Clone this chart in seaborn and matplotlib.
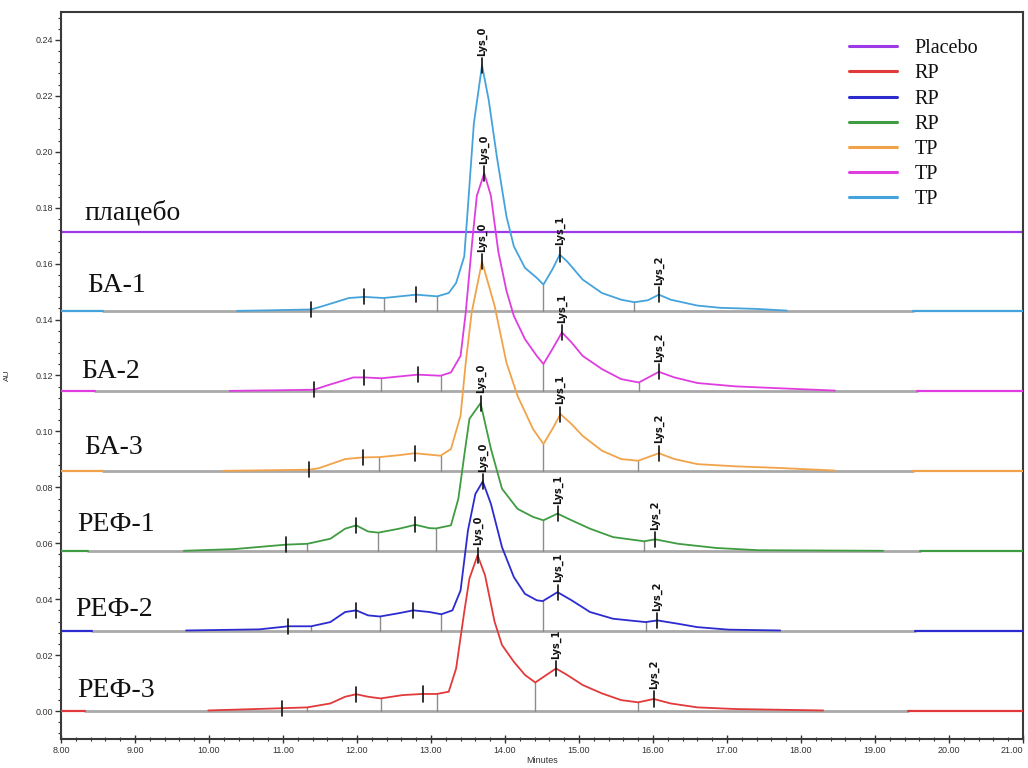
import numpy as np
import pandas as pd
import matplotlib
matplotlib.use('Agg')
import matplotlib.pyplot as plt
import seaborn as sns
from matplotlib.lines import Line2D
from matplotlib.ticker import MultipleLocator, FormatStrFormatter

# sample traces, heights are AU above each trace's own baseline
SAMPLES = ['БА-1', 'БА-2', 'БА-3', 'РЕФ-1', 'РЕФ-2', 'РЕФ-3']
OFFSETS = [0.1429, 0.1143, 0.0857, 0.0571, 0.0286, 0.0]
COLORS = ['#45a3dc', '#e03de0', '#f2a34a', '#3f9c42', '#2b2bd0', '#e23a3a']

PLACEBO_NAME = 'плацебо'
PLACEBO_LEVEL = 0.1714
PLACEBO_COLOR = '#9b3ae6'

BA1_T = [10.38, 10.81, 11.38, 11.55, 11.89, 12.10, 12.36, 12.80, 13.085, 13.24, 13.34, 13.45,
         13.50, 13.58, 13.69, 13.78, 13.89, 14.02, 14.12, 14.27, 14.43, 14.52, 14.64, 14.74,
         14.84, 15.05, 15.31, 15.57, 15.75, 15.93, 16.08, 16.24, 16.60, 16.91, 17.40, 17.81]
BA1_H = [0.0002, 0.0004, 0.0007, 0.0020, 0.0048, 0.0052, 0.0048, 0.0060, 0.0054, 0.0066, 0.0102, 0.0197,
         0.0376, 0.0673, 0.0880, 0.0757, 0.0554, 0.0340, 0.0233, 0.0156, 0.0120, 0.0096, 0.0150, 0.0203,
         0.0179, 0.0114, 0.0066, 0.0042, 0.0033, 0.0040, 0.0060, 0.0042, 0.0021, 0.0013, 0.0009, 0.0003]

BA2_T = [10.28, 10.91, 11.42, 11.58, 11.95, 12.10, 12.33, 12.82, 13.13, 13.27, 13.40, 13.47,
         13.56, 13.62, 13.72, 13.81, 13.91, 14.02, 14.12, 14.27, 14.43, 14.52, 14.64, 14.77,
         14.90, 15.05, 15.31, 15.57, 15.81, 16.08, 16.29, 16.60, 17.12, 17.64, 18.46]
BA2_H = [0.0002, 0.0004, 0.0006, 0.0020, 0.0050, 0.0050, 0.0047, 0.0060, 0.0056, 0.0068, 0.0127, 0.0282,
         0.0544, 0.0700, 0.0780, 0.0700, 0.0500, 0.0360, 0.0270, 0.0187, 0.0127, 0.0098, 0.0151, 0.0211,
         0.0175, 0.0127, 0.0080, 0.0044, 0.0032, 0.0070, 0.0050, 0.0030, 0.0018, 0.0012, 0.0003]

BA3_T = [10.19, 10.80, 11.35, 11.48, 11.84, 12.08, 12.30, 12.57, 12.78, 13.13, 13.27, 13.40,
         13.47, 13.55, 13.69, 13.86, 14.02, 14.17, 14.38, 14.52, 14.64, 14.75, 14.90, 15.05,
         15.31, 15.57, 15.80, 16.08, 16.29, 16.60, 17.12, 17.64, 18.46]
BA3_H = [0.0002, 0.0004, 0.0006, 0.0011, 0.0044, 0.0050, 0.0051, 0.0058, 0.0065, 0.0056, 0.0080, 0.0199,
         0.0389, 0.0568, 0.0750, 0.0592, 0.0389, 0.0270, 0.0151, 0.0098, 0.0151, 0.0205, 0.0169, 0.0127,
         0.0074, 0.0044, 0.0038, 0.0065, 0.0044, 0.0026, 0.0018, 0.0013, 0.0003]

REF1_T = [9.66, 10.34, 11.04, 11.33, 11.64, 11.84, 11.99, 12.15, 12.29, 12.57, 12.79, 12.98,
          13.07, 13.27, 13.37, 13.45, 13.52, 13.67, 13.81, 13.96, 14.17, 14.38, 14.52, 14.71,
          14.90, 15.15, 15.46, 15.88, 16.03, 16.34, 16.86, 17.43, 19.11]
REF1_H = [0.0002, 0.0008, 0.0024, 0.0027, 0.0045, 0.0081, 0.0093, 0.0071, 0.0067, 0.0081, 0.0095, 0.0083,
          0.0082, 0.0093, 0.0188, 0.0343, 0.0474, 0.0530, 0.0367, 0.0224, 0.0152, 0.0123, 0.0111, 0.0135,
          0.0111, 0.0081, 0.0051, 0.0036, 0.0043, 0.0027, 0.0012, 0.0004, 0.0002]

REF2_T = [9.69, 10.68, 11.07, 11.38, 11.64, 11.84, 11.99, 12.15, 12.31, 12.57, 12.76, 12.98,
          13.14, 13.29, 13.40, 13.50, 13.60, 13.70, 13.81, 13.96, 14.12, 14.27, 14.43, 14.51,
          14.71, 14.90, 15.15, 15.46, 15.90, 16.06, 16.34, 16.60, 17.02, 17.72]
REF2_H = [0.0002, 0.0006, 0.0017, 0.0017, 0.0032, 0.0068, 0.0074, 0.0056, 0.0052, 0.0064, 0.0074, 0.0068,
          0.0060, 0.0074, 0.0145, 0.0360, 0.0490, 0.0535, 0.0455, 0.0300, 0.0193, 0.0133, 0.0110, 0.0107,
          0.0139, 0.0110, 0.0068, 0.0044, 0.0032, 0.0038, 0.0026, 0.0014, 0.0005, 0.0002]

REF3_T = [9.99, 10.50, 10.99, 11.33, 11.64, 11.84, 11.99, 12.15, 12.32, 12.62, 12.89, 13.08,
          13.24, 13.34, 13.45, 13.52, 13.63, 13.73, 13.86, 13.96, 14.12, 14.27, 14.41, 14.56,
          14.69, 14.84, 15.05, 15.31, 15.57, 15.80, 16.01, 16.24, 16.60, 17.12, 18.30]
REF3_H = [0.0002, 0.0006, 0.0010, 0.0013, 0.0027, 0.0051, 0.0060, 0.0051, 0.0045, 0.0057, 0.0061, 0.0061,
          0.0069, 0.0152, 0.0355, 0.0474, 0.0557, 0.0486, 0.0319, 0.0236, 0.0176, 0.0129, 0.0102, 0.0129,
          0.0152, 0.0129, 0.0093, 0.0063, 0.0039, 0.0031, 0.0043, 0.0027, 0.0013, 0.0007, 0.0002]

TRACE_T = [BA1_T, BA2_T, BA3_T, REF1_T, REF2_T, REF3_T]
TRACE_H = [BA1_H, BA2_H, BA3_H, REF1_H, REF2_H, REF3_H]

# flat coloured pieces at both ends of the run, grey integration baseline in between
LEAD_END = [8.57, 8.46, 8.57, 8.37, 8.42, 8.32]
TAIL_START = [19.51, 19.57, 19.51, 19.61, 19.54, 19.45]

# integration marks (last three are the named peaks) and drop lines
MARKS = [[11.38, 12.10, 12.80, 13.69, 14.74, 16.08],
         [11.42, 12.10, 12.82, 13.72, 14.77, 16.08],
         [11.35, 12.08, 12.78, 13.69, 14.75, 16.08],
         [11.04, 11.99, 12.79, 13.67, 14.71, 16.03],
         [11.07, 11.99, 12.76, 13.70, 14.71, 16.06],
         [10.99, 11.99, 12.89, 13.63, 14.69, 16.01]]
DROPS = [[12.36, 13.085, 14.52, 15.75],
         [12.33, 13.13, 14.52, 15.81],
         [12.30, 13.13, 14.52, 15.80],
         [11.33, 12.29, 13.07, 14.52, 15.88],
         [11.38, 12.31, 13.14, 14.51, 15.90],
         [11.33, 12.32, 13.08, 14.41, 15.80]]
PEAK_NAMES = ['Lys_0', 'Lys_1', 'Lys_2']

NAME_X = [8.36, 8.28, 8.32, 8.22, 8.19, 8.22]
NAME_Y = [0.1521, 0.1214, 0.0943, 0.0668, 0.0364, 0.0075]
PLACEBO_XY = (8.32, 0.1782)

LEGEND_LABELS = ['Placebo', 'RP', 'RP', 'RP', 'TP', 'TP', 'TP']
LEGEND_COLORS = [PLACEBO_COLOR, COLORS[5], COLORS[4], COLORS[3], COLORS[2], COLORS[1], COLORS[0]]

X_TICKS = [8, 9, 10, 11, 12, 13, 14, 15, 16, 17, 18, 19, 20, 21]
X_TICK_LABELS = ['8.00', '9.00', '10.00', '11.00', '12.00', '13.00', '14.00',
                 '15.00', '16.00', '17.00', '18.00', '19.00', '20.00', '21.00']

X_MIN, X_MAX = 8.0, 21.0
Y_MIN, Y_MAX = -0.01, 0.25

sns.set_style('ticks')
plt.rcParams['font.family'] = ['Liberation Sans', 'DejaVu Sans']

fig = plt.figure(figsize=(10.28, 7.68), dpi=100)
ax = fig.add_axes([0.0593, 0.0378, 0.9358, 0.9466])

# placebo: flat over the whole run
sns.lineplot(x=[X_MIN, X_MAX], y=[PLACEBO_LEVEL, PLACEBO_LEVEL], color=PLACEBO_COLOR,
             lw=1.6, ax=ax, legend=False)

mark_len = 0.0027
for i, name in enumerate(SAMPLES):
    off = OFFSETS[i]
    col = COLORS[i]
    t = np.array(TRACE_T[i])
    h = np.array(TRACE_H[i]) + off

    # grey baseline
    ax.plot([LEAD_END[i], TAIL_START[i]], [off, off], color='#a9a9a9', lw=2.0, zorder=2)
    # flat ends
    ax.plot([X_MIN, LEAD_END[i]], [off, off], color=col, lw=1.6, zorder=3)
    ax.plot([TAIL_START[i], X_MAX], [off, off], color=col, lw=1.6, zorder=3)

    df = pd.DataFrame({'t': t, 'au': h})
    sns.lineplot(data=df, x='t', y='au', color=col, lw=1.3, ax=ax, legend=False, zorder=4)

    # drop lines to the baseline
    for d in DROPS[i]:
        top = np.interp(d, t, h)
        ax.plot([d, d], [off, top], color='#8c8c8c', lw=1.0, zorder=3)

    # integration marks and peak names
    marks = MARKS[i]
    for k, m in enumerate(marks):
        yc = np.interp(m, t, h)
        ax.plot([m, m], [yc - mark_len, yc + mark_len], color='#111111', lw=1.2, zorder=5)
        j = k - (len(marks) - len(PEAK_NAMES))
        if j >= 0:
            ax.text(m, yc + mark_len + 0.0008, PEAK_NAMES[j], rotation=90, ha='center',
                    va='bottom', fontsize=7, fontweight='bold',
                    family=['Liberation Sans Narrow', 'DejaVu Sans'], color='#111111', zorder=6)

    ax.text(NAME_X[i], NAME_Y[i], name, ha='left', va='center', fontsize=20,
            family=['Liberation Serif', 'DejaVu Serif'], color='#111111')

ax.text(PLACEBO_XY[0], PLACEBO_XY[1], PLACEBO_NAME, ha='left', va='center', fontsize=20,
        family=['Liberation Serif', 'DejaVu Serif'], color='#111111')

# legend
handles = [Line2D([0], [0], color=c, lw=2.2) for c in LEGEND_COLORS]
leg = ax.legend(handles, LEGEND_LABELS, loc='upper left', bbox_to_anchor=(0.819, 0.9625),
                frameon=False, borderpad=0, borderaxespad=0, labelspacing=0.3,
                handlelength=2.4, handletextpad=0.85,
                prop={'family': ['Liberation Serif', 'DejaVu Serif'], 'size': 14.5})
for txt in leg.get_texts():
    txt.set_color('#111111')

ax.set_xlim(X_MIN, X_MAX)
ax.set_ylim(Y_MIN, Y_MAX)
ax.set_xticks(X_TICKS, X_TICK_LABELS)
ax.xaxis.set_minor_locator(MultipleLocator(0.2))
ax.yaxis.set_major_locator(MultipleLocator(0.02))
ax.yaxis.set_minor_locator(MultipleLocator(0.004))
ax.yaxis.set_major_formatter(FormatStrFormatter('%.2f'))
ax.tick_params(axis='x', which='major', direction='inout', length=6, width=1.0,
               labelsize=6.5, colors='#333333', pad=2)
ax.tick_params(axis='x', which='minor', direction='inout', length=3, width=0.8, colors='#333333')
ax.tick_params(axis='y', which='major', direction='out', length=4, width=1.0,
               labelsize=6.5, colors='#333333', pad=1.5)
ax.tick_params(axis='y', which='minor', direction='out', length=2, width=0.8, colors='#333333')

# keep the last x tick label inside the figure
ax.get_xticklabels()[-1].set_horizontalalignment('right')

for s in ax.spines.values():
    s.set_visible(True)
    s.set_color('#3a3a3a')
    s.set_linewidth(1.5)

ax.set_xlabel('Minutes', fontsize=6.5, color='#333333', labelpad=1)
ax.set_ylabel('AU', fontsize=6, color='#333333')
ax.yaxis.set_label_coords(-0.052, 0.5)

fig.savefig('out.png', dpi=100)
